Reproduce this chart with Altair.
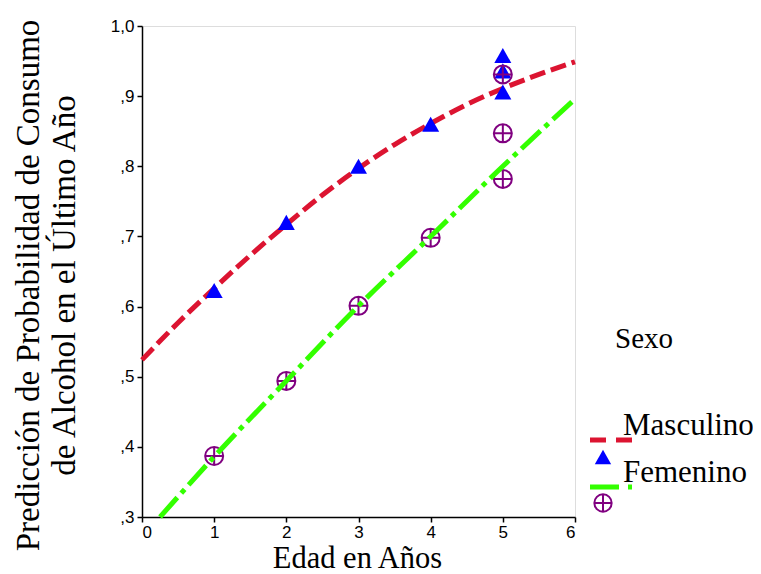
import altair as alt
import pandas as pd

# ---- data ----
edad_m_pts = [1, 2, 3, 4, 5, 5, 5]
prob_m_pts = [0.623, 0.720, 0.800, 0.860, 0.958, 0.936, 0.906]

edad_f_pts = [1, 2, 3, 4, 5, 5, 5]
prob_f_pts = [0.387, 0.494, 0.601, 0.698, 0.931, 0.847, 0.782]

edad_m_fit = [0, 0.5, 1, 1.5, 2, 2.5, 3, 3.5, 4, 4.5, 5, 5.5, 6]
prob_m_fit = [0.524, 0.577, 0.626, 0.673, 0.717, 0.759, 0.797, 0.831, 0.861, 0.888, 0.911, 0.931, 0.949]

edad_f_fit = [0.25, 1, 2, 3, 4, 5, 6]
prob_f_fit = [0.300, 0.386, 0.494, 0.601, 0.700, 0.800, 0.896]

x_ticks = [0, 1, 2, 3, 4, 5, 6]
y_ticks = [0.3, 0.4, 0.5, 0.6, 0.7, 0.8, 0.9, 1.0]

legend_title = "Sexo"
legend_labels = ["Masculino", "Femenino"]

RED = "#dc1431"
GREEN = "#33ff00"
BLUE = "#0000ff"
PURPLE = "#800080"
TRI = "M0,-0.8L0.9,0.8L-0.9,0.8Z"
CPLUS = "M-1,0A1,1 0 1,1 1,0A1,1 0 1,1 -1,0ZM-1,0L1,0M0,-1L0,1"

df_m = pd.DataFrame({"edad": edad_m_pts, "prob": prob_m_pts})
df_f = pd.DataFrame({"edad": edad_f_pts, "prob": prob_f_pts})
df_mf = pd.DataFrame({"edad": edad_m_fit, "prob": prob_m_fit})
df_ff = pd.DataFrame({"edad": edad_f_fit, "prob": prob_f_fit})

xs = alt.Scale(domain=[0, 6], nice=False, zero=False)
ys = alt.Scale(domain=[0.3, 1.0], nice=False, zero=False)

x_axis = alt.Axis(
    values=x_ticks, format="d", title="Edad en Años", grid=False,
    labelFont="Liberation Sans", labelFontSize=17, labelColor="black", labelPadding=2,
    tickSize=5, tickWidth=1.5, tickColor="black", domainColor="black", domainWidth=1.5,
    titleFont="Liberation Serif", titleFontSize=30.5, titleFontWeight="normal", titleColor="black",
    titleX=215, titleY=50, titleBaseline="alphabetic", titleAlign="center",
)
y_axis = alt.Axis(
    values=y_ticks, grid=False,
    labelExpr="datum.value >= 1 ? replace(format(datum.value, '.1f'), '.', ',') : replace(format(datum.value, '.1f'), '0.', ',')",
    title=["Predicción de Probabilidad de Consumo", "de Alcohol en el Último Año"],
    labelFont="Liberation Sans", labelFontSize=17, labelColor="black", labelPadding=3,
    tickSize=5, tickWidth=1.5, tickColor="black", domainColor="black", domainWidth=1.5,
    titleFont="Liberation Serif", titleFontSize=33, titleFontWeight="normal", titleColor="black",
    titleAngle=270, titleX=-104, titleY=259, titleBaseline="alphabetic", titleAlign="center",
    titleLineHeight=36,
)

x_enc = alt.X("edad:Q", scale=xs, axis=x_axis)
y_enc = alt.Y("prob:Q", scale=ys, axis=y_axis)

red_line = alt.Chart(df_mf).mark_line(
    color=RED, strokeWidth=5, strokeDash=[16, 6], interpolate="monotone"
).encode(x=x_enc, y=y_enc)

tri = alt.Chart(df_m).mark_point(
    shape=TRI, filled=True, color=BLUE, size=357, opacity=1
).encode(x="edad:Q", y="prob:Q")

circ = alt.Chart(df_f).mark_point(
    shape=CPLUS, filled=False, stroke=PURPLE, strokeWidth=2, size=324, opacity=1
).encode(x="edad:Q", y="prob:Q")

green_line = alt.Chart(df_ff).mark_line(
    color=GREEN, strokeWidth=5, strokeDash=[26, 6, 5, 6], interpolate="monotone"
).encode(x="edad:Q", y="prob:Q")

# ---- manual legend (outside the plot area, on the right) ----
leg_df = pd.DataFrame({"title": [legend_title], "m": [legend_labels[0]], "f": [legend_labels[1]]})
base_leg = alt.Chart(leg_df)
txt_kw = dict(font="Liberation Serif", fontSize=31, color="black", align="left", baseline="alphabetic")
leg_title = base_leg.mark_text(font="Liberation Serif", fontSize=29, color="black", align="left",
                               baseline="alphabetic").encode(x=alt.value(473), y=alt.value(322), text="title:N")
leg_m_txt = base_leg.mark_text(**txt_kw).encode(x=alt.value(481), y=alt.value(409), text="m:N")
leg_f_txt = base_leg.mark_text(**txt_kw).encode(x=alt.value(481), y=alt.value(456), text="f:N")
leg_m_line = base_leg.mark_rule(color=RED, strokeWidth=5, strokeDash=[16, 10]).encode(
    x=alt.value(448), x2=alt.value(490), y=alt.value(414))
leg_f_line = base_leg.mark_rule(color=GREEN, strokeWidth=5, strokeDash=[29, 9, 4, 9]).encode(
    x=alt.value(448), x2=alt.value(490), y=alt.value(461))
leg_tri = base_leg.mark_point(shape=TRI, filled=True, color=BLUE, size=330, opacity=1).encode(
    x=alt.value(461), y=alt.value(431))
leg_circ = base_leg.mark_point(shape=CPLUS, filled=False, stroke=PURPLE, strokeWidth=2, size=300, opacity=1).encode(
    x=alt.value(461), y=alt.value(477))

chart = alt.layer(
    red_line, tri, circ, green_line,
    leg_title, leg_m_txt, leg_f_txt, leg_m_line, leg_f_line, leg_tri, leg_circ,
).properties(
    width=433, height=491,
    autosize=alt.AutoSizeParams(type="none"),
    padding={"left": 134, "top": 18, "right": 178, "bottom": 57},
).configure_view(stroke=None).configure(background="white")

chart.save("out.html", embed_options={"renderer": "svg", "actions": False})
